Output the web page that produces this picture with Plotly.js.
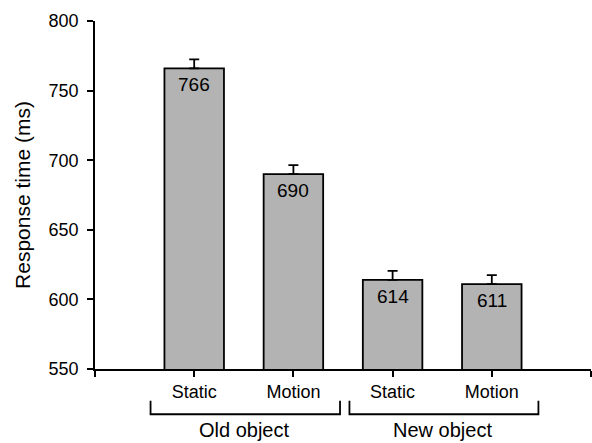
<!DOCTYPE html>
<html>
<head>
<meta charset="utf-8">
<script src="https://cdn.plot.ly/plotly-3.0.1.min.js"></script>
<style>html,body{margin:0;padding:0;background:#fff;}#chart{width:592px;height:443px;}</style>
</head>
<body>
<div id="chart"></div>
<script>
var conditions = ["Static", "Motion", "Static", "Motion"];
var groups = ["Old object", "New object"];
var responseTimes = [766, 690, 614, 611];
var errors = [6.5, 6.5, 6.5, 6.5];
var yTicks = [550, 600, 650, 700, 750, 800];

var xPos = conditions.map(function (c, i) { return i; });
var font = "Liberation Sans, Arial, Helvetica, sans-serif";

var trace = {
  type: "bar",
  x: xPos,
  y: responseTimes,
  width: 0.6,
  marker: { color: "#b3b3b3", line: { color: "#000", width: 1.8 } },
  error_y: {
    type: "data",
    symmetric: false,
    array: errors,
    arrayminus: errors.map(function () { return 0; }),
    color: "#000",
    thickness: 1.8,
    width: 5
  },
  hoverinfo: "none"
};

var annotations = responseTimes.map(function (v, i) {
  return {
    x: xPos[i], y: v, xref: "x", yref: "y",
    text: String(v), showarrow: false,
    yanchor: "top", yshift: -4,
    font: { family: font, size: 19, color: "#000" }
  };
});

var groupCenters = [0.5, 2.5];
var groupSpans = [[-0.44, 1.47], [1.565, 3.47]];
var shapes = [];
groups.forEach(function (g, k) {
  annotations.push({
    x: groupCenters[k], y: -0.212, xref: "x", yref: "paper",
    text: g, showarrow: false, yanchor: "bottom",
    font: { family: font, size: 20, color: "#000" }
  });
  var s = groupSpans[k];
  shapes.push({
    type: "path", xref: "x", yref: "paper",
    path: "M " + s[0] + " -0.091 L " + s[0] + " -0.130 L " + s[1] + " -0.130 L " + s[1] + " -0.091",
    line: { color: "#000", width: 1.8 }
  });
});

var layout = {
  width: 592, height: 443,
  margin: { l: 95, r: 1, t: 21, b: 74 },
  paper_bgcolor: "#fff", plot_bgcolor: "#fff",
  showlegend: false,
  font: { family: font, size: 18, color: "#000" },
  xaxis: {
    range: [-1, 4],
    tickvals: [-1, 0, 1, 2, 3, 4],
    ticktext: [""].concat(conditions).concat([""]),
    ticks: "outside", ticklen: 6, tickwidth: 1.8, tickcolor: "#000",
    showline: true, linecolor: "#000", linewidth: 1.8,
    showgrid: false, zeroline: false, fixedrange: true,
    tickfont: { family: font, size: 18, color: "#000" }
  },
  yaxis: {
    range: [550, 800],
    tickvals: yTicks,
    ticks: "outside", ticklen: 6, tickwidth: 1.8, tickcolor: "#000",
    ticklabelstandoff: 5,
    showline: true, linecolor: "#000", linewidth: 1.8,
    showgrid: false, zeroline: false, fixedrange: true,
    tickfont: { family: font, size: 18, color: "#000" },
    title: { text: "Response time (ms)", font: { family: font, size: 21, color: "#000" }, standoff: 12 }
  },
  annotations: annotations,
  shapes: shapes
};

Plotly.newPlot("chart", [trace], layout, { displayModeBar: false, staticPlot: true });
</script>
</body>
</html>
